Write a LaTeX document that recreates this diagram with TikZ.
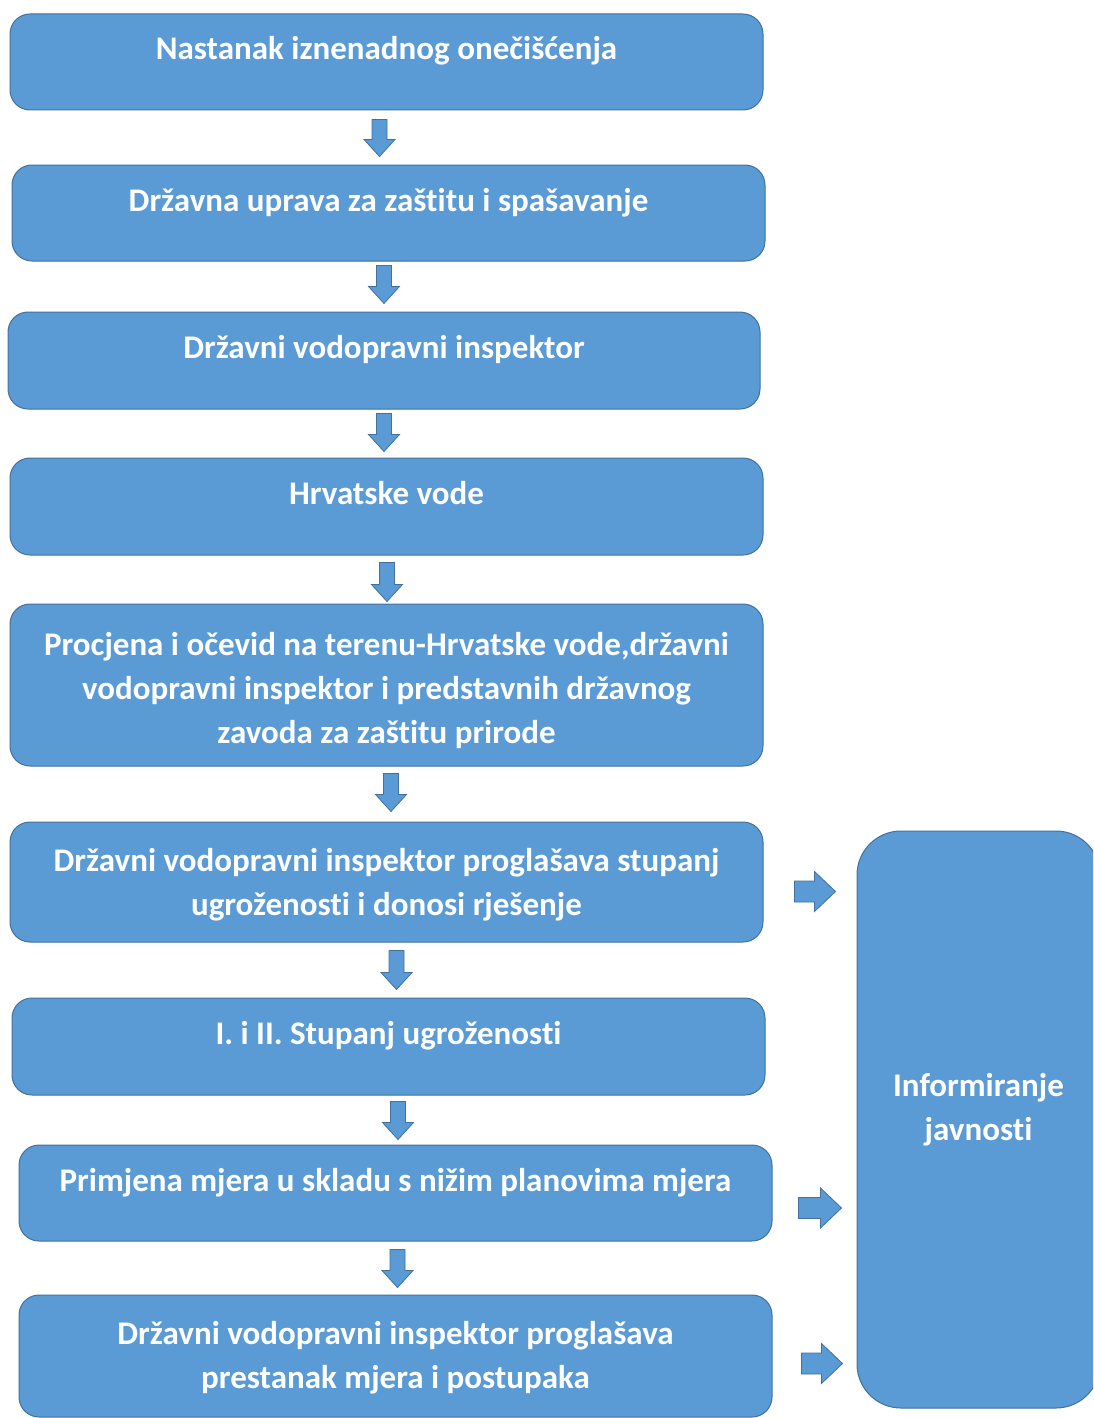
\documentclass[tikz,border=0pt]{standalone}
\usepackage{fontspec}
\setmainfont{Carlito}[Ligatures=NoCommon]
\usetikzlibrary{calc}
\definecolor{boxfill}{HTML}{5B9BD5}
\definecolor{boxline}{HTML}{41719C}
% start, end, shaft half width, head half width, head length
\newcommand\fatarrow[5]{%
  \coordinate (fah) at ($(#2)!#5!(#1)$);
  \draw[fatarrow] ($(#1)!#3!90:(#2)$) -- ($(fah)!#3!-90:(#1)$) -- ($(fah)!#4!-90:(#1)$) -- (#2)
    -- ($(fah)!#4!90:(#1)$) -- ($(fah)!#3!90:(#1)$) -- ($(#1)!#3!-90:(#2)$) -- cycle;}
% text lines framed by empty lines: #1 = gap (pt) from last baseline to the closing empty line
\newcommand\btext[2]{\mbox{}\\[-4pt]#2\\[\dimexpr#1pt-44pt\relax]\mbox{}}
\begin{document}
\begin{tikzpicture}[x=1pt,y=-1pt,
  box/.style={draw=boxline, fill=boxfill, line width=1pt, rounded corners=20pt,
    minimum width=753pt, minimum height=96pt, text=white, align=center,
    font=\fontsize{33}{44}\selectfont\bfseries, inner sep=0pt},
  fatarrow/.style={draw=boxline, fill=boxfill, line width=0.8pt, line join=miter}]
\useasboundingbox (0,0) rectangle (1093,1418);
\clip (0,0) rectangle (1093,1418);

\node[box] (b1) at (386.5,62) {\btext{44}{Nastanak iznenadnog onečišćenja}};
\node[box] (b2) at (388.5,213) {\btext{44}{Državna uprava za zaštitu i spašavanje}};
\node[box, minimum width=752pt, minimum height=97pt] (b3) at (384,360.5) {\btext{44}{Državni vodopravni inspektor}};
\node[box, minimum height=97pt] (b4) at (386.5,506.5) {\btext{44}{Hrvatske vode}};
\node[box, minimum height=162pt] (b5) at (386.5,685) {\btext{12}{Procjena i očevid na terenu-Hrvatske vode,državni\\vodopravni inspektor i predstavnih državnog\\zavoda za zaštitu prirode}};
\node[box, minimum height=120pt] (b6) at (386.5,882) {\btext{18}{Državni vodopravni inspektor proglašava stupanj\\ugroženosti i donosi rješenje}};
\node[box, minimum height=97pt] (b7) at (388.5,1046.5) {\btext{44}{I. i II. Stupanj ugroženosti}};
\node[box] (b8) at (395.5,1193) {\btext{44}{Primjena mjera u skladu s nižim planovima mjera}};
\node[box, minimum height=122pt] (b9) at (395.5,1356) {\btext{19}{Državni vodopravni inspektor proglašava\\prestanak mjera i postupaka}};
\node[box, minimum width=243pt, minimum height=577pt, rounded corners=44pt] (inf) at (978.5,1119.5) {\btext{43}{Informiranje\\javnosti}};

% down arrows
\coordinate (d1s) at ($(b1.south)+(-7,9)$);   \coordinate (d1e) at ($(d1s |- b2.north)+(0,-8)$);
\coordinate (d2s) at ($(b2.south)+(-4.5,4)$); \coordinate (d2e) at ($(d2s |- b3.north)+(0,-8)$);
\coordinate (d3s) at ($(b3.south)+(0,4)$);    \coordinate (d3e) at ($(d3s |- b4.north)+(0,-6)$);
\coordinate (d4s) at ($(b4.south)+(0.5,7)$);  \coordinate (d4e) at ($(d4s |- b5.north)+(0,-2)$);
\coordinate (d5s) at ($(b5.south)+(4.5,7)$);  \coordinate (d5e) at ($(d5s |- b6.north)+(0,-10)$);
\coordinate (d6s) at ($(b6.south)+(10,8)$);   \coordinate (d6e) at ($(d6s |- b7.north)+(0,-8)$);
\coordinate (d7s) at ($(b7.south)+(9.5,6)$);  \coordinate (d7e) at ($(d7s |- b8.north)+(0,-5)$);
\coordinate (d8s) at ($(b8.south)+(2,8)$);    \coordinate (d8e) at ($(d8s |- b9.north)+(0,-7)$);
\foreach \i in {1,...,8}{\fatarrow{d\i s}{d\i e}{7.5pt}{15.5pt}{17pt}}

% right arrows
\coordinate (r1s) at ($(b6.east)+(31,9.5)$);  \coordinate (r1e) at ($(inf.west |- r1s)+(-21,0)$);
\coordinate (r2s) at ($(b8.east)+(26,15)$);   \coordinate (r2e) at ($(inf.west |- r2s)+(-15,0)$);
\coordinate (r3s) at ($(b9.east)+(29,7.5)$);  \coordinate (r3e) at ($(inf.west |- r3s)+(-14,0)$);
\foreach \i in {1,2,3}{\fatarrow{r\i s}{r\i e}{10.5pt}{20pt}{21pt}}
\end{tikzpicture}
\end{document}
